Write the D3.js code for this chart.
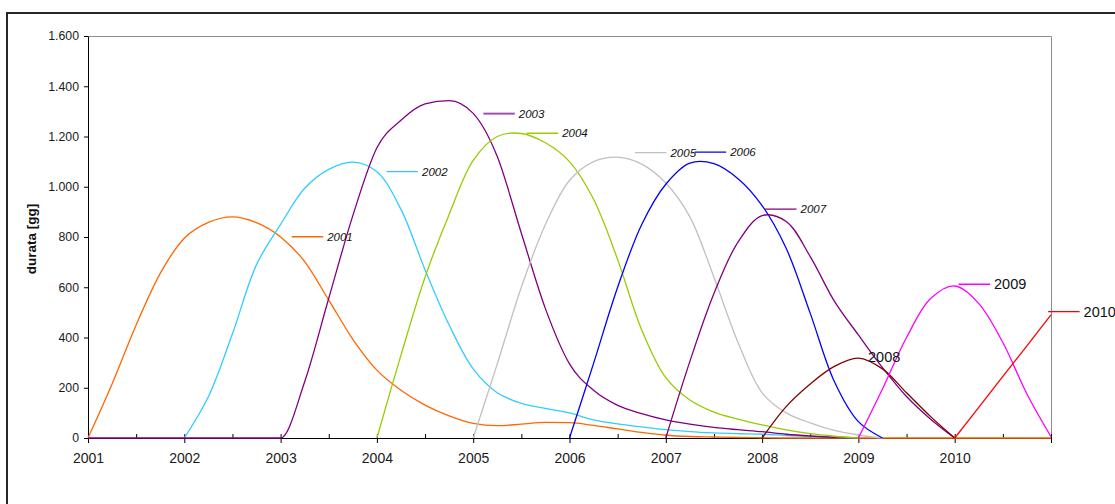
<!DOCTYPE html>
<html>
<head>
<meta charset="utf-8">
<script src="https://cdn.jsdelivr.net/npm/d3@7"></script>
<style>
  body { margin: 0; background: #fff; }
  svg { display: block; font-family: "Liberation Sans", Arial, sans-serif; }
</style>
</head>
<body>
<svg id="chart" width="1115" height="504"></svg>
<script>
//
// Data
//

// quarter grid on x (fractional years)
const quarters = [2001, 2001.25, 2001.5, 2001.75, 2002, 2002.25, 2002.5, 2002.75,
  2003, 2003.25, 2003.5, 2003.75, 2004, 2004.25, 2004.5, 2004.75,
  2005, 2005.25, 2005.5, 2005.75, 2006, 2006.25, 2006.5, 2006.75,
  2007, 2007.25, 2007.5, 2007.75, 2008, 2008.25, 2008.5, 2008.75,
  2009, 2009.25, 2009.5, 2009.75, 2010, 2010.25, 2010.5, 2010.75, 2011]
const years = [2001, 2002, 2003, 2004, 2005, 2006, 2007, 2008, 2009, 2010, 2011]
const halfYears = [2001.5, 2002.5, 2003.5, 2004.5, 2005.5, 2006.5, 2007.5, 2008.5, 2009.5, 2010.5]
const yTicks = [0, 200, 400, 600, 800, 1000, 1200, 1400, 1600]

const _ = null
const s2001 = [0, 215, 450, 655, 795, 858, 880, 857, 800, 702, 549, 393, 270, 190, 131, 88,
  58, 49, 55, 62, 61, 50, 36, 22, 11, 6, 4, 2, 1, 0, 0, 0, 0, 0, 0, 0, 0, 0, 0, 0, 0]
const s2002 = [_, _, _, _, 0, 164, 415, 690, 850, 994, 1069, 1098, 1060, 910, 670, 450,
  275, 180, 138, 118, 100, 72, 56, 44, 33, 25, 20, 17, 15, 10, 6, 3, 0, _, _, _, _, _, _, _, _]
const s2003 = [0, 0, 0, 0, 0, 0, 0, 0, 0, 224, 556, 885, 1155, 1265, 1330, 1343,
  1292, 1120, 815, 515, 295, 190, 130, 97, 72, 55, 42, 33, 25, 15, 8, 3, 0, _, _, _, _, _, _, _, _]
const s2004 = [_, _, _, _, _, _, _, _, _, _, _, _, 0, 330, 640, 890,
  1105, 1200, 1212, 1175, 1100, 950, 710, 430, 240, 151, 103, 75, 52, 32, 17, 7, 0, _, _, _, _, _, _, _, _]
const s2005 = [_, _, _, _, _, _, _, _, _, _, _, _, _, _, _, _,
  0, 295, 600, 850, 1025, 1100, 1118, 1090, 1015, 880, 640, 380, 180, 100, 60, 30, 12, 0, _, _, _, _, _, _, _]
const s2006 = [_, _, _, _, _, _, _, _, _, _, _, _, _, _, _, _,
  _, _, _, _, 0, 297, 600, 850, 1010, 1094, 1092, 1032, 925, 755, 496, 225, 65, 0, _, _, _, _, _, _, _]
const s2007 = [_, _, _, _, _, _, _, _, _, _, _, _, _, _, _, _,
  _, _, _, _, _, _, _, _, 0, 305, 575, 780, 885, 862, 722, 545, 410, 280, 165, 75, 0, _, _, _, _]
const s2008 = [_, _, _, _, _, _, _, _, _, _, _, _, _, _, _, _,
  _, _, _, _, _, _, _, _, _, _, _, _, 0, 125, 215, 285, 318, 275, 180, 85, 0, _, _, _, _]
const s2009 = [_, _, _, _, _, _, _, _, _, _, _, _, _, _, _, _,
  _, _, _, _, _, _, _, _, _, _, _, _, _, _, _, _, 0, 195, 400, 555, 605, 535, 380, 175, 5]
const s2010 = [_, _, _, _, _, _, _, _, _, _, _, _, _, _, _, _,
  _, _, _, _, _, _, _, _, _, _, _, _, _, _, _, _, _, _, _, _, 0, 122, 245, 367, 490]

const seriesNames = ["2001", "2002", "2003", "2004", "2005", "2006", "2007", "2008", "2009", "2010"]
const seriesValues = [s2001, s2002, s2003, s2004, s2005, s2006, s2007, s2008, s2009, s2010]
const seriesColors = ["#ff6600", "#33ccff", "#800080", "#99cc00", "#c0c0c0", "#0000ff",
  "#800080", "#800000", "#ff00ff", "#ff0000"]

// where each series label sits (year, value), leader line colour and style
const labelYear = [2003.115, 2004.10, 2005.105, 2005.555, 2006.68, 2007.30, 2008.03, 2009.10, 2010.04, 2010.97]
const labelValue = [801, 1060, 1291, 1213, 1136, 1138, 911, 324, 612, 503]
const leaderColors = ["#ff6600", "#33ccff", "#a050b0", "#99cc00", "#c0c0c0", "#0000ff",
  "#800080", null, "#ff00ff", "#ff0000"]
const labelItalic = [true, true, true, true, true, true, true, false, false, false]

//
// Setup
//

const svg = d3.select("#chart")
const plotLeft = 88, plotRight = 1051, plotTop = 36, plotBottom = 438

const x = d3.scaleLinear().domain([2001, 2011]).range([plotLeft, plotRight])
const y = d3.scaleLinear().domain([0, 1600]).range([plotBottom, plotTop])

const it = d3.formatLocale({decimal: ",", thousands: ".", grouping: [3], currency: ["", " €"]})
const fmt = it.format(",")

// keep the smoothed lines from dipping under the x axis
svg.append("defs").append("clipPath").attr("id", "plotclip")
  .append("rect")
  .attr("x", plotLeft - 2).attr("y", plotTop - 10)
  .attr("width", plotRight - plotLeft + 4).attr("height", plotBottom - plotTop + 11.5)

// outer chart frame (runs off the picture on the right and bottom)
svg.append("rect")
  .attr("x", 7).attr("y", 13)
  .attr("width", 1130).attr("height", 520)
  .attr("fill", "none")
  .attr("stroke", "#262626")
  .attr("stroke-width", 2)

// plot area: grey top and right edges
svg.append("path")
  .attr("d", `M${plotLeft},${plotTop + 0.5}H${plotRight + 0.5}V${plotBottom}`)
  .attr("fill", "none")
  .attr("stroke", "#8c8c8c")
  .attr("stroke-width", 1)

// y axis
const yAxis = svg.append("g")
  .attr("transform", `translate(${plotLeft},0)`)
  .call(d3.axisLeft(y).tickValues(yTicks).tickSize(4).tickSizeOuter(0).tickPadding(5).tickFormat(fmt))
yAxis.selectAll("text").attr("font-size", "12.3px").attr("fill", "#1a1a1a")
  .attr("font-family", "Liberation Sans, Arial, sans-serif")
yAxis.selectAll("line, path").attr("stroke", "#000")

// x axis, minor ticks (inside)
const xMinor = svg.append("g")
  .attr("transform", `translate(0,${plotBottom})`)
  .call(d3.axisBottom(x).tickValues(halfYears).tickSize(-4).tickSizeOuter(0).tickFormat(""))
xMinor.select(".domain").remove()
xMinor.selectAll("line").attr("stroke", "#000")

// x axis, major ticks (crossing)
const xAxis = svg.append("g")
  .attr("transform", `translate(0,${plotBottom})`)
  .call(d3.axisBottom(x).tickValues(years).tickSize(5).tickSizeOuter(0)
    .tickFormat(d => d < 2011 ? d : ""))
xAxis.selectAll(".tick line").attr("y1", -4).attr("stroke", "#000")
xAxis.select(".domain").attr("stroke", "#000")
xAxis.selectAll("text")
  .attr("y", 15).attr("dy", "0.71em")
  .attr("font-size", "14px").attr("fill", "#1a1a1a")
  .attr("font-family", "Liberation Sans, Arial, sans-serif")

// axis title
svg.append("text")
  .attr("transform", `translate(36,${(plotTop + plotBottom) / 2 + 2}) rotate(-90)`)
  .attr("text-anchor", "middle")
  .attr("font-size", "13.5px")
  .attr("font-weight", "bold")
  .attr("fill", "#111")
  .text("durata [gg]")

//
// Series
//

// catmull-rom rounds the peaks; monotone for the series that run flat along zero
const roundLine = d3.line()
  .defined(d => d[1] !== null)
  .x(d => x(d[0]))
  .y(d => y(d[1]))
  .curve(d3.curveCatmullRom.alpha(0.5))
const flatLine = d3.line()
  .defined(d => d[1] !== null)
  .x(d => x(d[0]))
  .y(d => y(d[1]))
  .curve(d3.curveMonotoneX)

const lines = svg.append("g").attr("clip-path", "url(#plotclip)")
seriesValues.forEach(function(vals, i) {
  const pts = quarters.map((q, j) => [q, vals[j]])
  lines.append("path")
    .datum(pts)
    .attr("d", (i === 0 || i === 2) ? flatLine : roundLine)
    .attr("fill", "none")
    .attr("stroke", seriesColors[i])
    .attr("stroke-width", 1.3)
    .attr("stroke-linejoin", "round")
})

//
// Labels
//

const leaderLen = 31.5
seriesNames.forEach(function(name, i) {
  const lx = x(labelYear[i]), ly = y(labelValue[i])
  let tx = lx
  if (leaderColors[i]) {
    svg.append("line")
      .attr("x1", lx).attr("x2", lx + leaderLen)
      .attr("y1", ly).attr("y2", ly)
      .attr("stroke", leaderColors[i])
      .attr("stroke-width", i === 2 ? 2 : 1.3)
    tx = lx + leaderLen + 4
  }
  svg.append("text")
    .attr("x", tx).attr("y", ly)
    .attr("dy", "0.35em")
    .attr("font-size", labelItalic[i] ? "11.5px" : "14.5px")
    .attr("font-style", labelItalic[i] ? "italic" : "normal")
    .attr("fill", "#111")
    .text(name)
})
</script>
</body>
</html>
